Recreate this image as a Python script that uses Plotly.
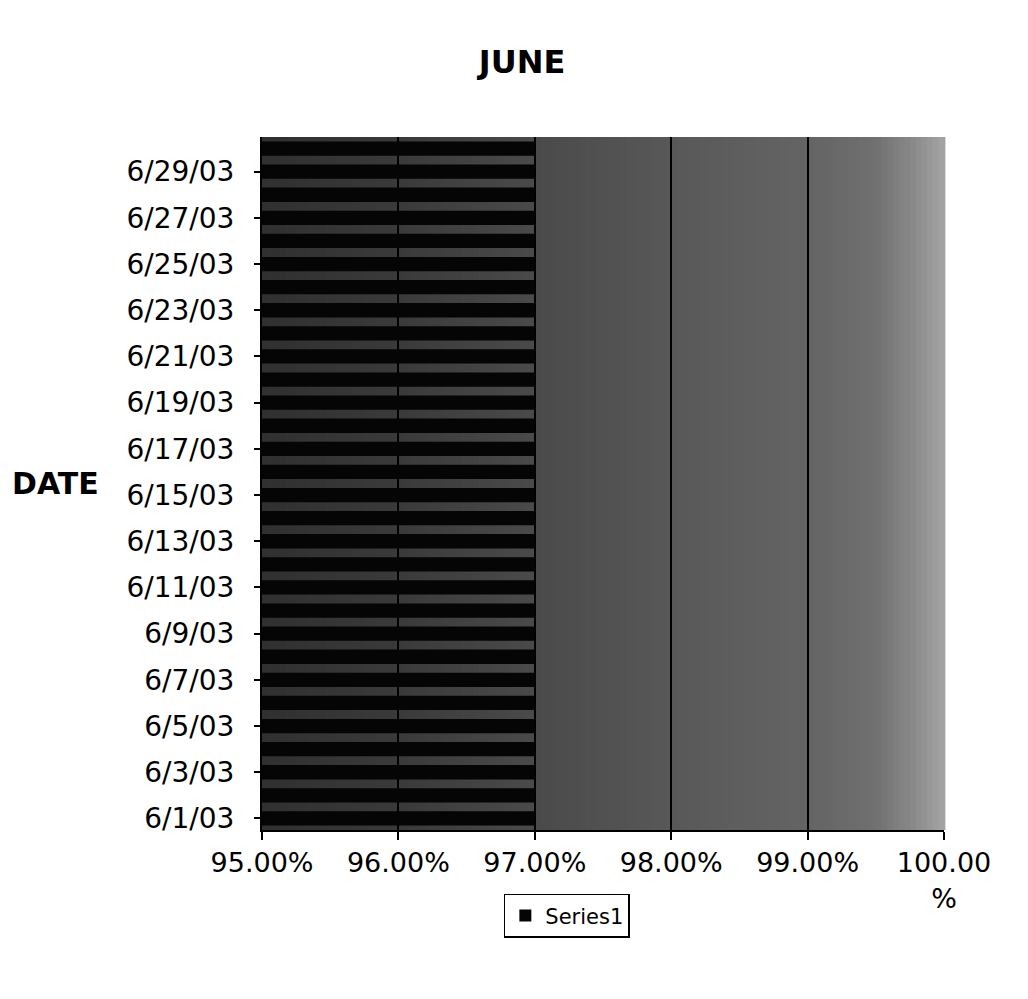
import plotly.graph_objects as go

# ---- data ----
dates = ["6/%d/03" % d for d in range(1, 31)]
values = [0.970, 0.970, 0.970, 0.970, 0.970, 0.970, 0.970, 0.970, 0.970, 0.970,
          0.970, 0.970, 0.970, 0.970, 0.970, 0.970, 0.970, 0.970, 0.970, 0.970,
          0.970, 0.970, 0.970, 0.970, 0.970, 0.970, 0.970, 0.970, 0.970, 0.970]
y_tick_labels = ["6/%d/03" % d for d in range(1, 31, 2)]
x_tick_vals = [0.95, 0.96, 0.97, 0.98, 0.99, 1.00]
x_tick_text = ["95.00%", "96.00%", "97.00%", "98.00%", "99.00%", "100.00<br>%"]
series_name = "Series1"

# background gradient stops (fraction of plot width, gray level)
grad_stops = [(0.0, 48), (0.2, 58), (0.4, 74), (0.6, 88), (0.8, 100),
              (0.9, 112), (0.96, 140), (1.0, 165)]

fig = go.Figure()
fig.add_trace(go.Bar(
    y=dates, x=values, orientation="h", name=series_name,
    marker=dict(color="#050505", line=dict(width=0)),
    showlegend=True,
))

# gradient background as thin rectangles in plot-domain coordinates
shapes = []
n = 120
for i in range(n):
    f0 = i / n
    f1 = (i + 1) / n
    fm = (f0 + f1) / 2
    for j in range(len(grad_stops) - 1):
        a, ga = grad_stops[j]
        b, gb = grad_stops[j + 1]
        if a <= fm <= b:
            g = ga + (gb - ga) * (fm - a) / (b - a)
            break
    g = int(round(g))
    shapes.append(dict(type="rect", xref="x domain", yref="y domain",
                       x0=f0, x1=f1 + 0.002, y0=0, y1=1, layer="below",
                       fillcolor="rgb(%d,%d,%d)" % (g, g, g), line=dict(width=0)))

fig.update_layout(
    width=1028, height=999,
    paper_bgcolor="white", plot_bgcolor="white",
    margin=dict(l=254, r=92, t=129, b=177, autoexpand=False),
    title=dict(text="<b>JUNE</b>", x=0.5, xanchor="center", y=0.946, yanchor="middle",
               font=dict(family="DejaVu Sans", size=32, color="black")),
    bargap=0.38,
    shapes=shapes,
    showlegend=True,
    legend=dict(orientation="h", x=0.447, xanchor="center", y=-0.092, yanchor="top",
                bordercolor="black", borderwidth=1.5, bgcolor="white",
                font=dict(family="DejaVu Sans", size=21, color="black")),
    annotations=[dict(text="<b>DATE</b>", xref="paper", yref="paper",
                      x=-0.3695, y=0.5007, xanchor="left", yanchor="middle", showarrow=False,
                      font=dict(family="DejaVu Sans", size=30, color="black"))],
)

fig.update_xaxes(
    range=[0.95, 1.0], tickvals=x_tick_vals, ticktext=x_tick_text,
    showgrid=True, gridcolor="black", gridwidth=1.5,
    showline=True, linecolor="black", linewidth=2,
    ticks="outside", ticklen=8, tickcolor="black", tickwidth=2,
    tickfont=dict(family="DejaVu Sans", size=27, color="black"),
    zeroline=False, fixedrange=True,
)
fig.update_yaxes(
    type="category", categoryorder="array", categoryarray=dates,
    tickvals=y_tick_labels, ticktext=y_tick_labels,
    showgrid=False, showline=True, linecolor="black", linewidth=2,
    ticks="outside", ticklen=6, tickcolor="black", tickwidth=2,
    ticklabelstandoff=14,
    tickfont=dict(family="DejaVu Sans", size=28, color="black"),
    fixedrange=True,
)

fig.write_html("out.html")
